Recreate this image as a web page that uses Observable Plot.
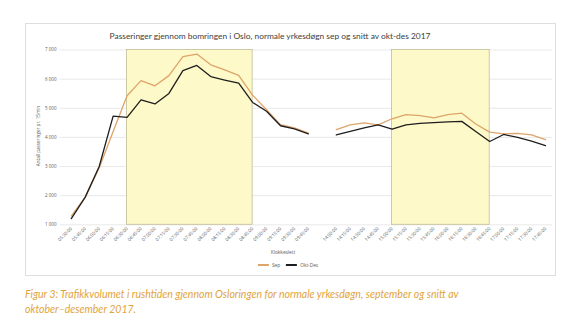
<!DOCTYPE html>
<html><head><meta charset="utf-8">
<script src="https://cdn.jsdelivr.net/npm/d3@7"></script>
<script src="https://cdn.jsdelivr.net/npm/@observablehq/plot@0.6"></script>
<style>
body{margin:0;background:#fff;width:563px;height:324px;position:relative;overflow:hidden;font-family:"Open Sans",sans-serif}
#box{position:absolute;left:25px;top:23px;width:531px;height:253px;border:1px solid #dedede;box-sizing:border-box}
#title{position:absolute;left:270px;top:31px;transform:translateX(-50%);white-space:nowrap;font-size:8.4px;color:#404040;font-family:Lato,sans-serif}
#chart{position:absolute;left:0;top:0}
#ylab{position:absolute;left:38px;top:136px;transform:translate(-50%,-50%) rotate(-90deg);font-size:4.6px;color:#595959;white-space:nowrap}
#xlab{position:absolute;left:283px;top:249px;transform:translateX(-50%);font-size:4.8px;color:#595959;white-space:nowrap}
#legend{position:absolute;left:288px;top:262px;transform:translateX(-50%);font-size:4.8px;color:#595959;white-space:nowrap;display:flex;align-items:center;gap:3px}
.sw{display:inline-block;width:11px;height:1.3px}
#caption{position:absolute;left:25px;top:287px;font-style:italic;color:#e2a33a;font-size:10.5px;line-height:15px;font-family:Lato,sans-serif;white-space:nowrap}
</style></head>
<body>
<div id="box"></div>
<div id="chart"></div>
<div id="title">Passeringer gjennom bomringen i Oslo, normale yrkesdøgn sep og snitt av okt-des 2017</div>
<div id="ylab">Antall passeringer pr. 15min</div>
<div id="xlab">Klokkeslett</div>
<div id="legend"><span class="sw" style="background:#dea469"></span><span>Sep</span><span class="sw" style="background:#1e1e1e;margin-left:3px"></span><span>Okt-Des</span></div>
<div id="caption">Figur 3: Trafikkvolumet i rushtiden gjennom Osloringen for normale yrkesdøgn, september og snitt av<br>oktober–desember 2017.</div>
<script>
const times = ["05:30:00","05:45:00","06:00:00","06:15:00","06:30:00","06:45:00","07:00:00","07:15:00","07:30:00","07:45:00","08:00:00","08:15:00","08:30:00","08:45:00","09:00:00","09:15:00","09:30:00","09:45:00","",
"14:00:00","14:15:00","14:30:00","14:45:00","15:00:00","15:15:00","15:30:00","15:45:00","16:00:00","16:15:00","16:30:00","16:45:00","17:00:00","17:15:00","17:30:00","17:45:00"];
const sep = [1300,1950,2950,4200,5430,5950,5770,6120,6770,6860,6490,6320,6130,5450,4950,4440,4330,4150,null,
4270,4430,4500,4430,4640,4780,4750,4670,4780,4830,4460,4180,4120,4140,4090,3920];
const oktDes = [1210,1950,3000,4730,4690,5290,5150,5510,6290,6470,6090,5970,5860,5200,4900,4400,4290,4120,null,
4090,4210,4330,4430,4280,4430,4480,4510,4530,4550,4200,3860,4100,4000,3870,3720];
const shadeFrom = ["06:30:00","15:00:00"];
const shadeTo = ["08:45:00","16:45:00"];
const yTicks = [1000,2000,3000,4000,5000,6000,7000];

const rows = times.map((t,i)=>({t, sep: sep[i], okt: oktDes[i]}));
const shades = shadeFrom.map((f,i)=>({from:f, to:shadeTo[i]}));
const fmt = d => d3.format(",")(d).replace(/,/g," ");

const chart = Plot.plot({
  width: 563, height: 280,
  marginLeft: 60, marginRight: 11, marginTop: 49.5, marginBottom: 55.7,
  style: {background:"transparent", fontFamily:"Open Sans, sans-serif", fontSize:"4.5px", color:"#595959"},
  x: {type:"point", domain: times, padding:0, insetLeft:10.8, insetRight:7},
  y: {domain:[1000,7000]},
  marks: [
    Plot.ruleY(yTicks, {stroke:"#e3e3e3", strokeWidth:0.8}),
    Plot.rect(shades, {x1:"from", x2:"to", fill:"#fdf9c9", stroke:"#c2bd95", strokeWidth:0.8}),
    Plot.axisY({ticks: yTicks, tickSize:0, tickPadding:4, tickFormat: fmt, label:null}),
    Plot.axisX({tickSize:0, tickRotate:-45, tickPadding:3, label:null, tickFormat: d=>d}),
    Plot.line(rows, {x:"t", y:"sep", stroke:"#dea469", strokeWidth:1.3}),
    Plot.line(rows, {x:"t", y:"okt", stroke:"#1e1e1e", strokeWidth:1.3})
  ]
});
document.getElementById("chart").appendChild(chart);
</script>
</body></html>
